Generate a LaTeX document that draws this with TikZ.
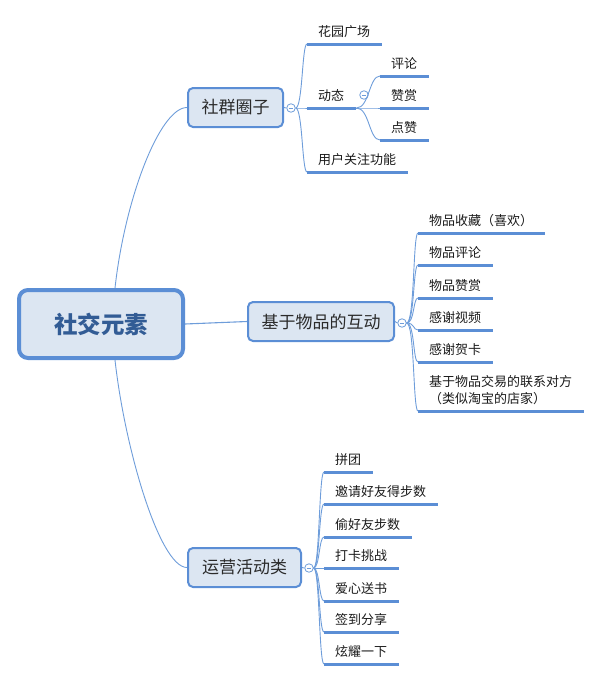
\documentclass[tikz,border=0pt]{standalone}
\usepackage{fontspec}
\setmainfont{Noto Sans CJK SC}
\definecolor{bordblue}{HTML}{5B8ED5}
\definecolor{fillblue}{HTML}{DCE6F2}
\definecolor{linkblue}{HTML}{6E9DDA}
\definecolor{roottext}{HTML}{325C95}
\definecolor{boxtext}{HTML}{2B2B2B}
\definecolor{leaftext}{HTML}{1A1A1A}
\tikzset{
  rootbox/.style={draw=bordblue, fill=fillblue, line width=4pt, rounded corners=9pt,
    minimum width=164pt, minimum height=68pt, inner sep=0pt,
    font=\fontsize{23.5}{28}\selectfont\bfseries, text=roottext},
  topicbox/.style={draw=bordblue, fill=fillblue, line width=2pt, rounded corners=5pt,
    minimum height=39pt, inner sep=0pt,
    font=\fontsize{17}{20}\selectfont, text=boxtext},
  leaf/.style={anchor=south west, inner sep=0pt, minimum height=25pt,
    font=\fontsize{13}{17}\selectfont, text=leaftext, align=left},
  fold/.style={circle, draw=linkblue, fill=white, line width=0.8pt, minimum size=8.5pt, inner sep=0pt,
    path picture={\draw[linkblue, line width=0.8pt] ([xshift=-2.3pt]path picture bounding box.center) -- ([xshift=2.3pt]path picture bounding box.center);}},
  ul/.style={draw=bordblue, line width=3pt},
  br/.style={draw=linkblue, line width=0.9pt},
}
\begin{document}
\begin{tikzpicture}[x=1pt, y=-1pt]
\useasboundingbox (0,0) rectangle (602,681);

% main nodes
\node[rootbox] (root) at (101,324) {社交元素};
\node[topicbox, minimum width=95pt] (t1) at (235.5,107.5) {社群圈子};
\node[topicbox, minimum width=146pt] (t2) at (321,321.5) {基于物品的互动};
\node[topicbox, minimum width=113pt] (t3) at (244.5,567.5) {运营活动类};

% fold circles
\node[fold] (f1) at (291,108) {};
\node[fold] (f2) at (402,323) {};
\node[fold] (f3) at (309,568) {};
\node[fold] (fd) at (364,95) {};

% leaves of t1
\node[leaf] (a1) at (318,44) {花园广场};
\node[leaf] (a2) at (318,108) {动态};
\node[leaf] (a3) at (318,172) {用户关注功能};
\node[leaf] (d1) at (391,76) {评论};
\node[leaf] (d2) at (391,108) {赞赏};
\node[leaf] (d3) at (391,140) {点赞};

% leaves of t2
\node[leaf] (b1) at (429,233) {物品收藏（喜欢）};
\node[leaf] (b2) at (429,265) {物品评论};
\node[leaf] (b3) at (429,298) {物品赞赏};
\node[leaf] (b4) at (429,330) {感谢视频};
\node[leaf] (b5) at (429,362) {感谢贺卡};
\node[leaf, minimum height=41pt] (b6) at (429,411) {基于物品交易的联系对方\\（类似淘宝的店家）};

% leaves of t3
\node[leaf] (c1) at (335,472) {拼团};
\node[leaf] (c2) at (335,504) {邀请好友得步数};
\node[leaf] (c3) at (335,537) {偷好友步数};
\node[leaf] (c4) at (335,568) {打卡挑战};
\node[leaf] (c5) at (335,601) {爱心送书};
\node[leaf] (c6) at (335,632) {签到分享};
\node[leaf] (c7) at (335,664) {炫耀一下};

% underlines
\foreach \n in {a1,a2,a3,d1,d2,d3,b1,b2,b3,b4,b5,b6,c1,c2,c3,c4,c5,c6,c7}
  \draw[ul] ([xshift=-11pt]\n.south west) -- ([xshift=12pt]\n.south east);

% root connectors
\draw[br] ([xshift=14pt]root.north) .. controls +(10,-90) and +(-27,0) .. (t1.west);
\draw[br, line width=1.1pt] (root.east) -- (t2.west);
\draw[br] ([xshift=14pt]root.south) .. controls +(10,90) and +(-27,0) .. (t3.west);

% topic to fold
\draw[br] (t1.east) -- (f1.west);
\draw[br] (t2.east) -- (f2.west);
\draw[br] (t3.east) -- (f3.west);

% fold to leaves
\foreach \n in {a1,a2,a3}
  \draw[br] (f1.east) .. controls +(7,0) and +(-5,0) .. ([xshift=-11pt]\n.south west);
\foreach \n in {b1,b2,b3,b4,b5,b6}
  \draw[br] (f2.east) .. controls +(8,0) and +(-5,0) .. ([xshift=-11pt]\n.south west);
\foreach \n in {c1,c2,c3,c4,c5,c6,c7}
  \draw[br] (f3.east) .. controls +(6,0) and +(-5,0) .. ([xshift=-11pt]\n.south west);
\foreach \n in {d1,d2,d3}
  \draw[br] ([xshift=12pt]a2.south east) .. controls +(13,0) and +(-11,0) .. ([xshift=-11pt]\n.south west);
\end{tikzpicture}
\end{document}
